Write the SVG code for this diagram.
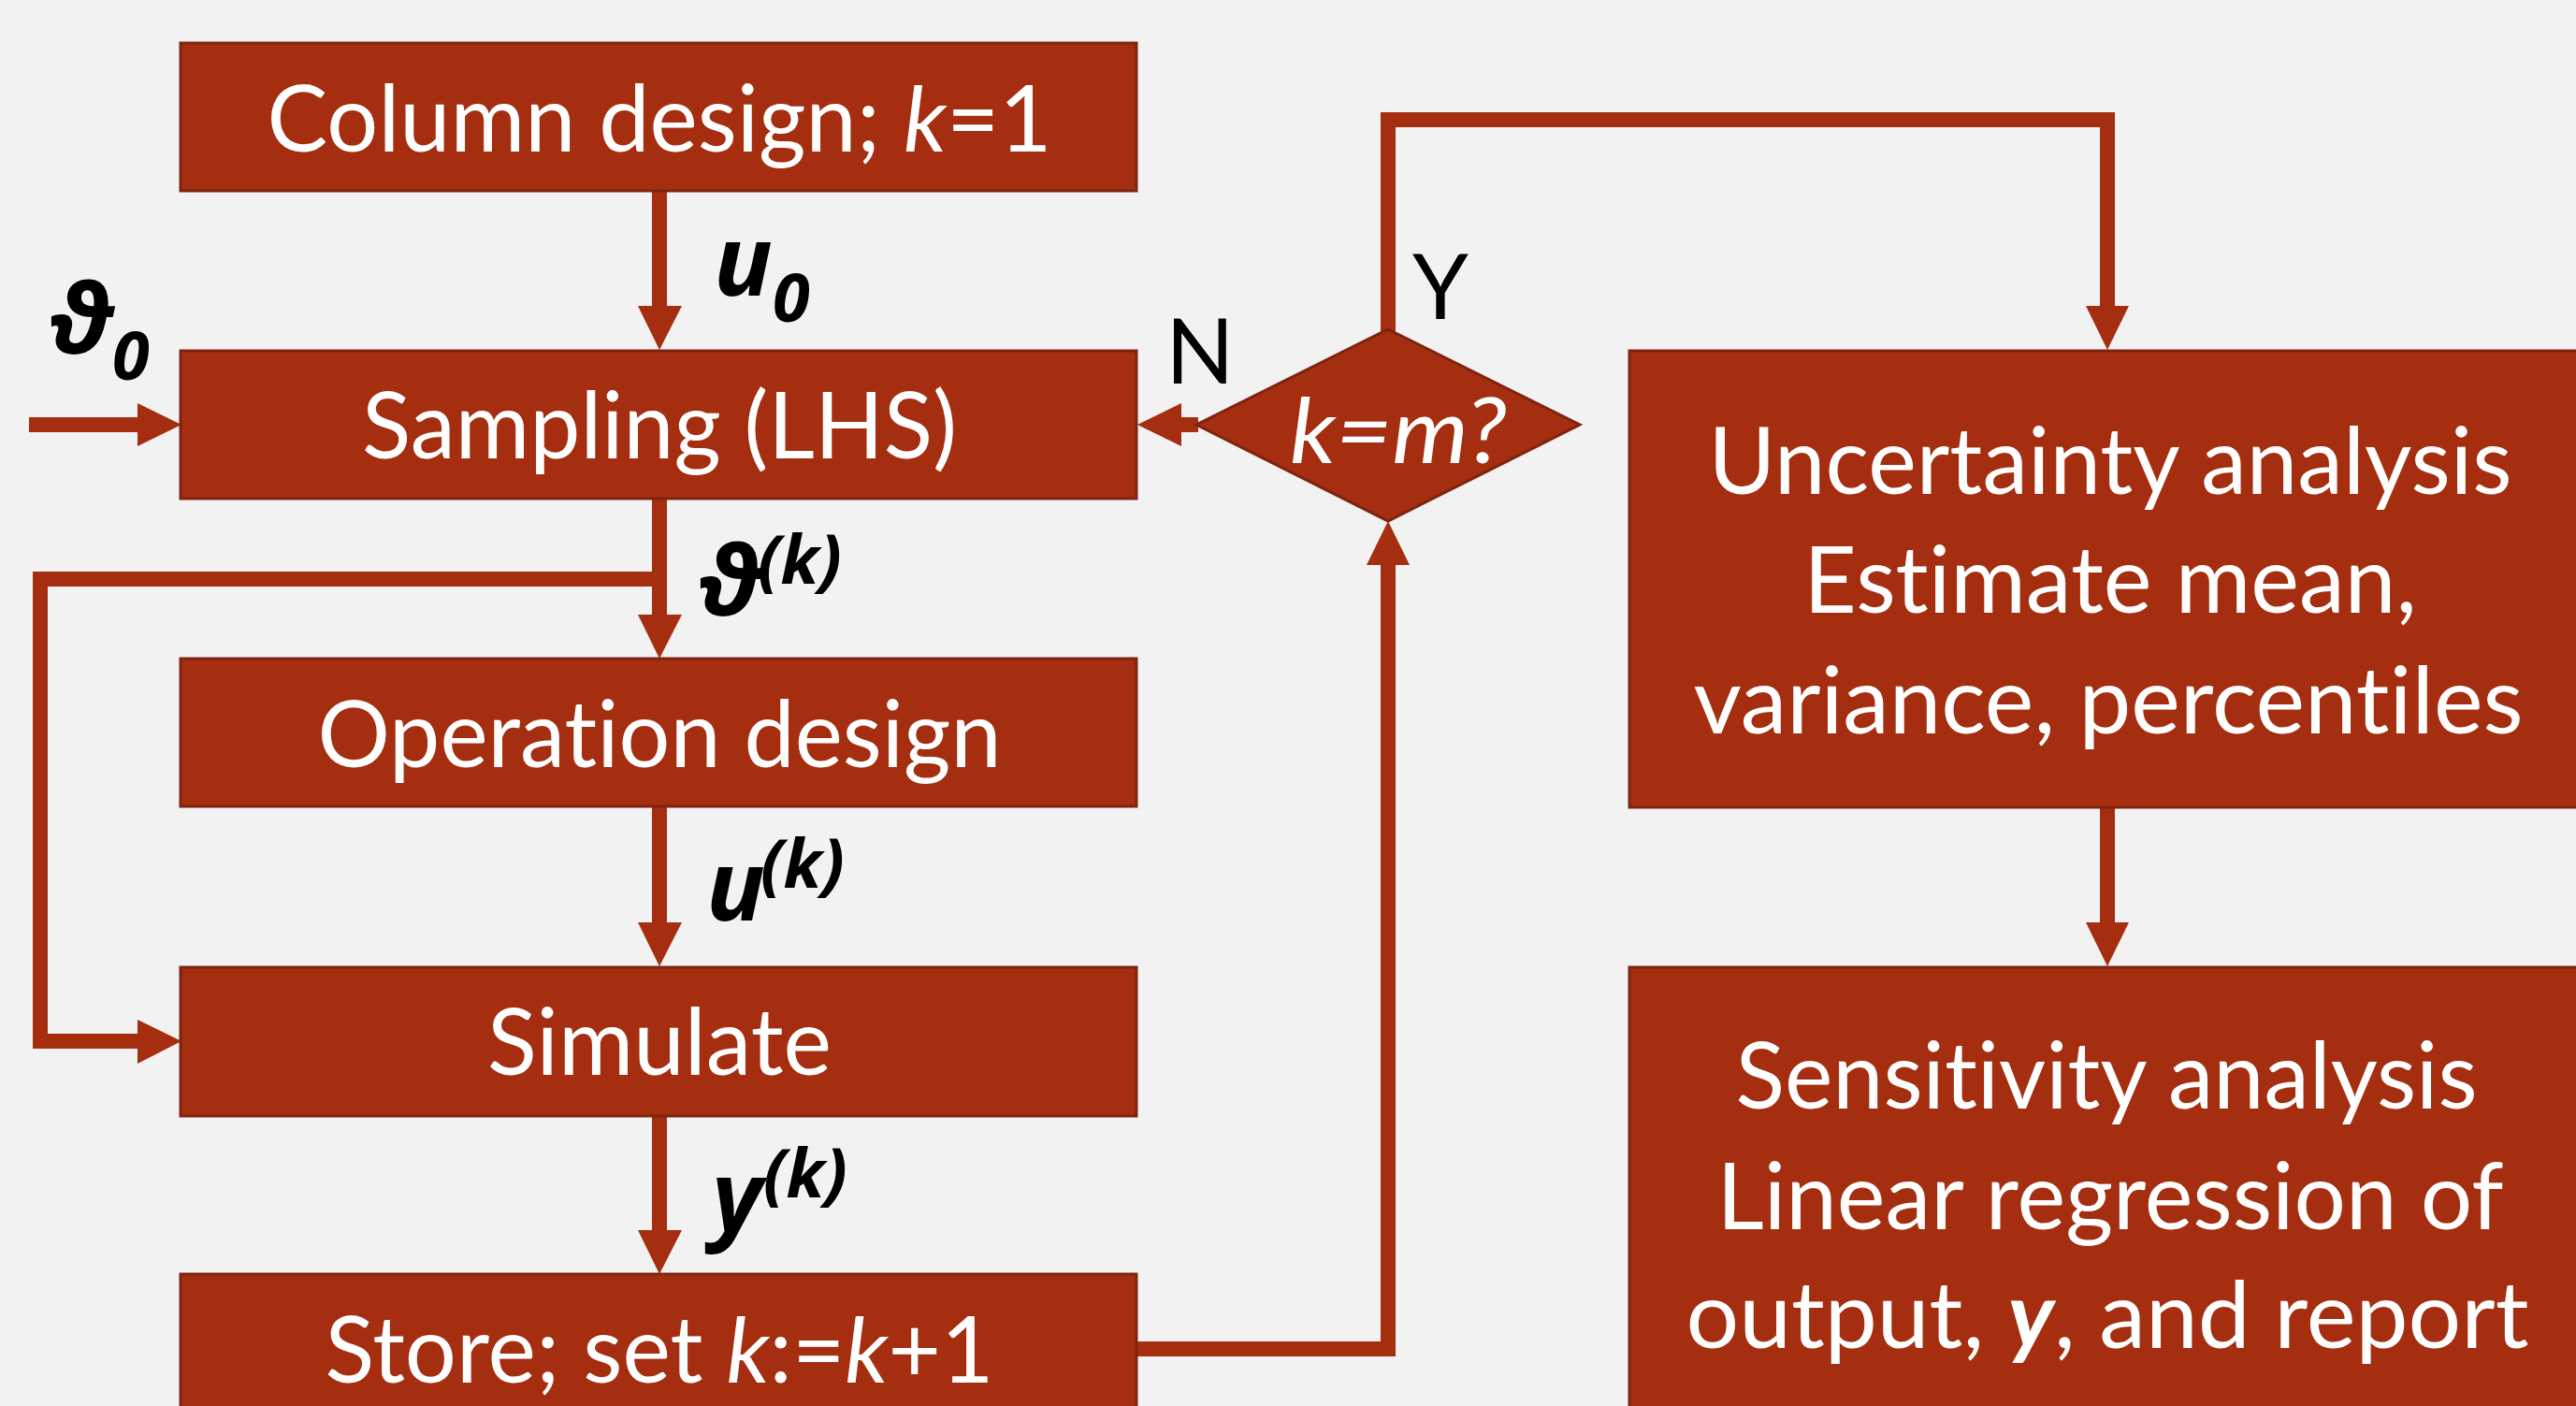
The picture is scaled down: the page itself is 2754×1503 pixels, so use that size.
<svg xmlns="http://www.w3.org/2000/svg" width="2754" height="1503" viewBox="0 0 2754 1503">
<style>
.box{fill:#A42E0F;stroke:#7D2410;stroke-width:3}
.t{font-family:Lato,"Open Sans","Liberation Sans",sans-serif;font-size:98px;fill:#FFFFFF;text-anchor:middle;font-variant-ligatures:none;font-feature-settings:"liga" 0,"clig" 0}
.i{font-style:italic}
.bi{font-style:italic;font-weight:bold}
.conn{stroke:#A42E0F;stroke-width:16;fill:none;stroke-linejoin:miter}
.head{fill:#A42E0F}
.lbl{font-family:"Noto Sans","DejaVu Sans",sans-serif;font-style:italic;font-weight:bold;font-size:104px;fill:#000000}
.sup{font-size:72px}
.yn{font-family:Lato,"Open Sans","Liberation Sans",sans-serif;font-size:96px;fill:#000000;text-anchor:middle}
</style>
<rect x="0" y="0" width="2754" height="1503" fill="#F2F2F2"/>
<g id="connectors">
  <line class="conn" x1="705" y1="204" x2="705" y2="330"/>
  <polygon class="head" points="682,327 729,327 705,374"/>
  <line class="conn" x1="31" y1="454" x2="150" y2="454"/>
  <polygon class="head" points="147,431 147,477 194,454"/>
  <line class="conn" x1="705" y1="534" x2="705" y2="660"/>
  <polygon class="head" points="682,657 729,657 705,704"/>
  <path class="conn" d="M705,619 H43 V1113 H150"/>
  <polygon class="head" points="147,1090 147,1137 194,1113"/>
  <line class="conn" x1="705" y1="862" x2="705" y2="989"/>
  <polygon class="head" points="682,986 729,986 705,1033"/>
  <line class="conn" x1="705" y1="1194" x2="705" y2="1318"/>
  <polygon class="head" points="682,1315 729,1315 705,1362"/>
  <path class="conn" d="M1215,1442 H1484 V602"/>
  <polygon class="head" points="1461,604 1507,604 1484,557"/>
  <line class="conn" x1="1281" y1="454" x2="1260" y2="454"/>
  <polygon class="head" points="1263,431 1263,477 1216,454"/>
  <path class="conn" d="M1484,354 V128 H2253 V330"/>
  <polygon class="head" points="2230,327 2276,327 2253,374"/>
  <line class="conn" x1="2253" y1="863" x2="2253" y2="989"/>
  <polygon class="head" points="2230,986 2276,986 2253,1033"/>
</g>
<g id="column-design">
  <rect class="box" x="193" y="46" width="1022" height="158"/>
  <text class="t" x="705" y="162" textLength="839" lengthAdjust="spacingAndGlyphs">Column design; <tspan class="i">k</tspan>=1</text>
</g>
<g id="sampling">
  <rect class="box" x="193" y="375" width="1022" height="158"/>
  <text class="t" x="705" y="490" textLength="636" lengthAdjust="spacingAndGlyphs">Sampling (LHS)</text>
</g>
<g id="operation-design">
  <rect class="box" x="193" y="704" width="1022" height="158"/>
  <text class="t" x="705" y="820" textLength="731" lengthAdjust="spacingAndGlyphs">Operation design</text>
</g>
<g id="simulate">
  <rect class="box" x="193" y="1034" width="1022" height="159"/>
  <text class="t" x="705" y="1149" textLength="368" lengthAdjust="spacingAndGlyphs">Simulate</text>
</g>
<g id="store">
  <rect class="box" x="193" y="1362" width="1022" height="160"/>
  <text class="t" x="705" y="1478" textLength="715" lengthAdjust="spacingAndGlyphs">Store; set <tspan class="i">k</tspan>:=<tspan class="i">k</tspan>+1</text>
</g>
<g id="decision">
  <polygon class="box" points="1484,352 1689,454 1484,557 1279,454"/>
  <text class="t i" x="1495" y="495" textLength="232" lengthAdjust="spacingAndGlyphs">k=m?</text>
</g>
<g id="uncertainty-analysis">
  <rect class="box" x="1742" y="375" width="1022" height="488"/>
  <text class="t" x="2256" y="528" textLength="859" lengthAdjust="spacingAndGlyphs">Uncertainty analysis</text>
  <text class="t" x="2256" y="655">Estimate mean,</text>
  <text class="t" x="2254" y="784" textLength="887" lengthAdjust="spacingAndGlyphs">variance, percentiles</text>
</g>
<g id="sensitivity-analysis">
  <rect class="box" x="1742" y="1034" width="1022" height="489"/>
  <text class="t" x="2252" y="1185" textLength="793" lengthAdjust="spacingAndGlyphs">Sensitivity analysis</text>
  <text class="t" x="2256" y="1314" textLength="841" lengthAdjust="spacingAndGlyphs">Linear regression of</text>
  <text class="t" x="2253" y="1441" textLength="901" lengthAdjust="spacingAndGlyphs">output, <tspan class="bi">y</tspan>, and report</text>
</g>
<g id="labels">
  <text class="lbl" x="763" y="316">u<tspan class="sup" x="826" y="344">0</tspan></text>
  <text class="lbl" x="49" y="378">ϑ<tspan class="sup" x="120" y="406">0</tspan></text>
  <text class="lbl" x="743" y="658">ϑ<tspan class="sup" x="810" y="624">(k)</tspan></text>
  <text class="lbl" x="755" y="984">u<tspan class="sup" x="813" y="949">(k)</tspan></text>
  <text class="lbl" x="761" y="1316">y<tspan class="sup" x="816" y="1280">(k)</tspan></text>
  <text class="yn" x="1283" y="410">N</text>
  <text class="yn" x="1540" y="341">Y</text>
</g>
</svg>
